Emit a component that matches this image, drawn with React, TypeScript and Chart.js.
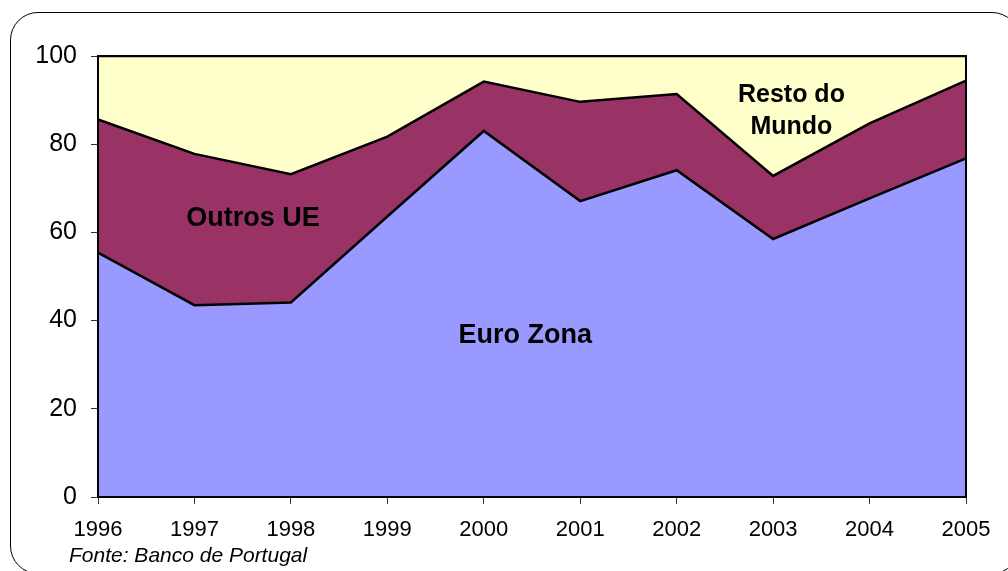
import React, { useEffect, useRef } from "react";
import { Chart, registerables } from "chart.js";

Chart.register(...registerables);

const years = ["1996", "1997", "1998", "1999", "2000", "2001", "2002", "2003", "2004", "2005"];
const euroZona = [55.4, 43.5, 44.1, 63.6, 83.0, 67.1, 74.1, 58.5, 67.7, 76.8];
const outrosUE = [30.2, 34.3, 29.1, 18.1, 11.2, 22.5, 17.3, 14.3, 17.0, 17.6];
const restoMundo = [14.4, 22.2, 26.8, 18.3, 5.8, 10.4, 8.6, 27.2, 15.3, 5.6];
const yTicks = [0, 20, 40, 60, 80, 100];
const sourceText = "Fonte: Banco de Portugal";

const FONT = "'Liberation Sans', Arial, sans-serif";

const labelsPlugin = {
  id: "areaLabels",
  afterDatasetsDraw(chart: any) {
    const { ctx, chartArea, scales } = chart;
    const xs = scales.x;
    const ys = scales.y;
    ctx.save();
    ctx.strokeStyle = "#000";
    ctx.lineWidth = 2;
    ctx.strokeRect(chartArea.left, chartArea.top, chartArea.right - chartArea.left, chartArea.bottom - chartArea.top);
    ctx.fillStyle = "#000";
    ctx.textAlign = "center";
    ctx.textBaseline = "middle";
    ctx.font = `bold 27px ${FONT}`;
    ctx.fillText("Outros UE", xs.getPixelForValue(1.607), ys.getPixelForValue(63.2));
    ctx.fillText("Euro Zona", xs.getPixelForValue(4.43), ys.getPixelForValue(36.7));
    ctx.font = `bold 25px ${FONT}`;
    ctx.fillText("Resto do", xs.getPixelForValue(7.19), ys.getPixelForValue(91.2));
    ctx.fillText("Mundo", xs.getPixelForValue(7.19), ys.getPixelForValue(83.9));
    ctx.textAlign = "left";
    ctx.textBaseline = "alphabetic";
    ctx.font = `italic 21px ${FONT}`;
    ctx.fillText(sourceText, 69, 562);
    ctx.restore();
  },
};

export default function App() {
  const ref = useRef<HTMLCanvasElement>(null);
  useEffect(() => {
    if (!ref.current) return;
    const chart = new Chart(ref.current, {
      type: "line",
      data: {
        labels: years,
        datasets: [
          {
            label: "Euro Zona",
            data: euroZona,
            backgroundColor: "#9999FF",
            borderColor: "#000",
            borderWidth: 2.5,
            fill: "origin",
            pointRadius: 0,
            tension: 0,
          },
          {
            label: "Outros UE",
            data: outrosUE,
            backgroundColor: "#993366",
            borderColor: "#000",
            borderWidth: 2.5,
            fill: "-1",
            pointRadius: 0,
            tension: 0,
          },
          {
            label: "Resto do Mundo",
            data: restoMundo,
            backgroundColor: "#FFFFCC",
            borderColor: "#000",
            borderWidth: 2.5,
            fill: "-1",
            pointRadius: 0,
            tension: 0,
          },
        ],
      },
      options: {
        responsive: false,
        animation: false,
        layout: { padding: { left: 0, top: 56, right: 42, bottom: 0 } },
        plugins: { legend: { display: false }, tooltip: { enabled: false }, title: { display: false } },
        scales: {
          x: {
            offset: false,
            grid: { drawOnChartArea: false, drawTicks: true, tickLength: 7, color: "#333" },
            border: { display: true, color: "#000", width: 2 },
            ticks: { color: "#000", font: { family: FONT, size: 22 }, padding: 13, maxRotation: 0, autoSkip: false },
            afterFit: (s: any) => { s.height = 74; },
          },
          y: {
            stacked: true,
            min: 0,
            max: 100,
            afterBuildTicks: (s: any) => { s.ticks = yTicks.map((v) => ({ value: v })); },
            grid: { drawOnChartArea: false, drawTicks: true, tickLength: 7, color: "#333" },
            border: { display: true, color: "#000", width: 2 },
            ticks: { color: "#000", font: { family: FONT, size: 25 }, padding: 14 },
            afterFit: (s: any) => { s.width = 98; },
          },
        },
      },
      plugins: [labelsPlugin],
    });
    return () => chart.destroy();
  }, []);

  return (
    <div style={{ position: "absolute", left: 0, top: 0, width: 1008, height: 571, overflow: "hidden", background: "#fff" }}>
      <div
        style={{
          position: "absolute",
          left: 10,
          top: 12,
          width: 1010,
          height: 562,
          border: "1.5px solid #000",
          borderRadius: 28,
          boxSizing: "border-box",
        }}
      />
      <canvas ref={ref} width={1008} height={571} style={{ position: "absolute", left: 0, top: 0 }} />
    </div>
  );
}
